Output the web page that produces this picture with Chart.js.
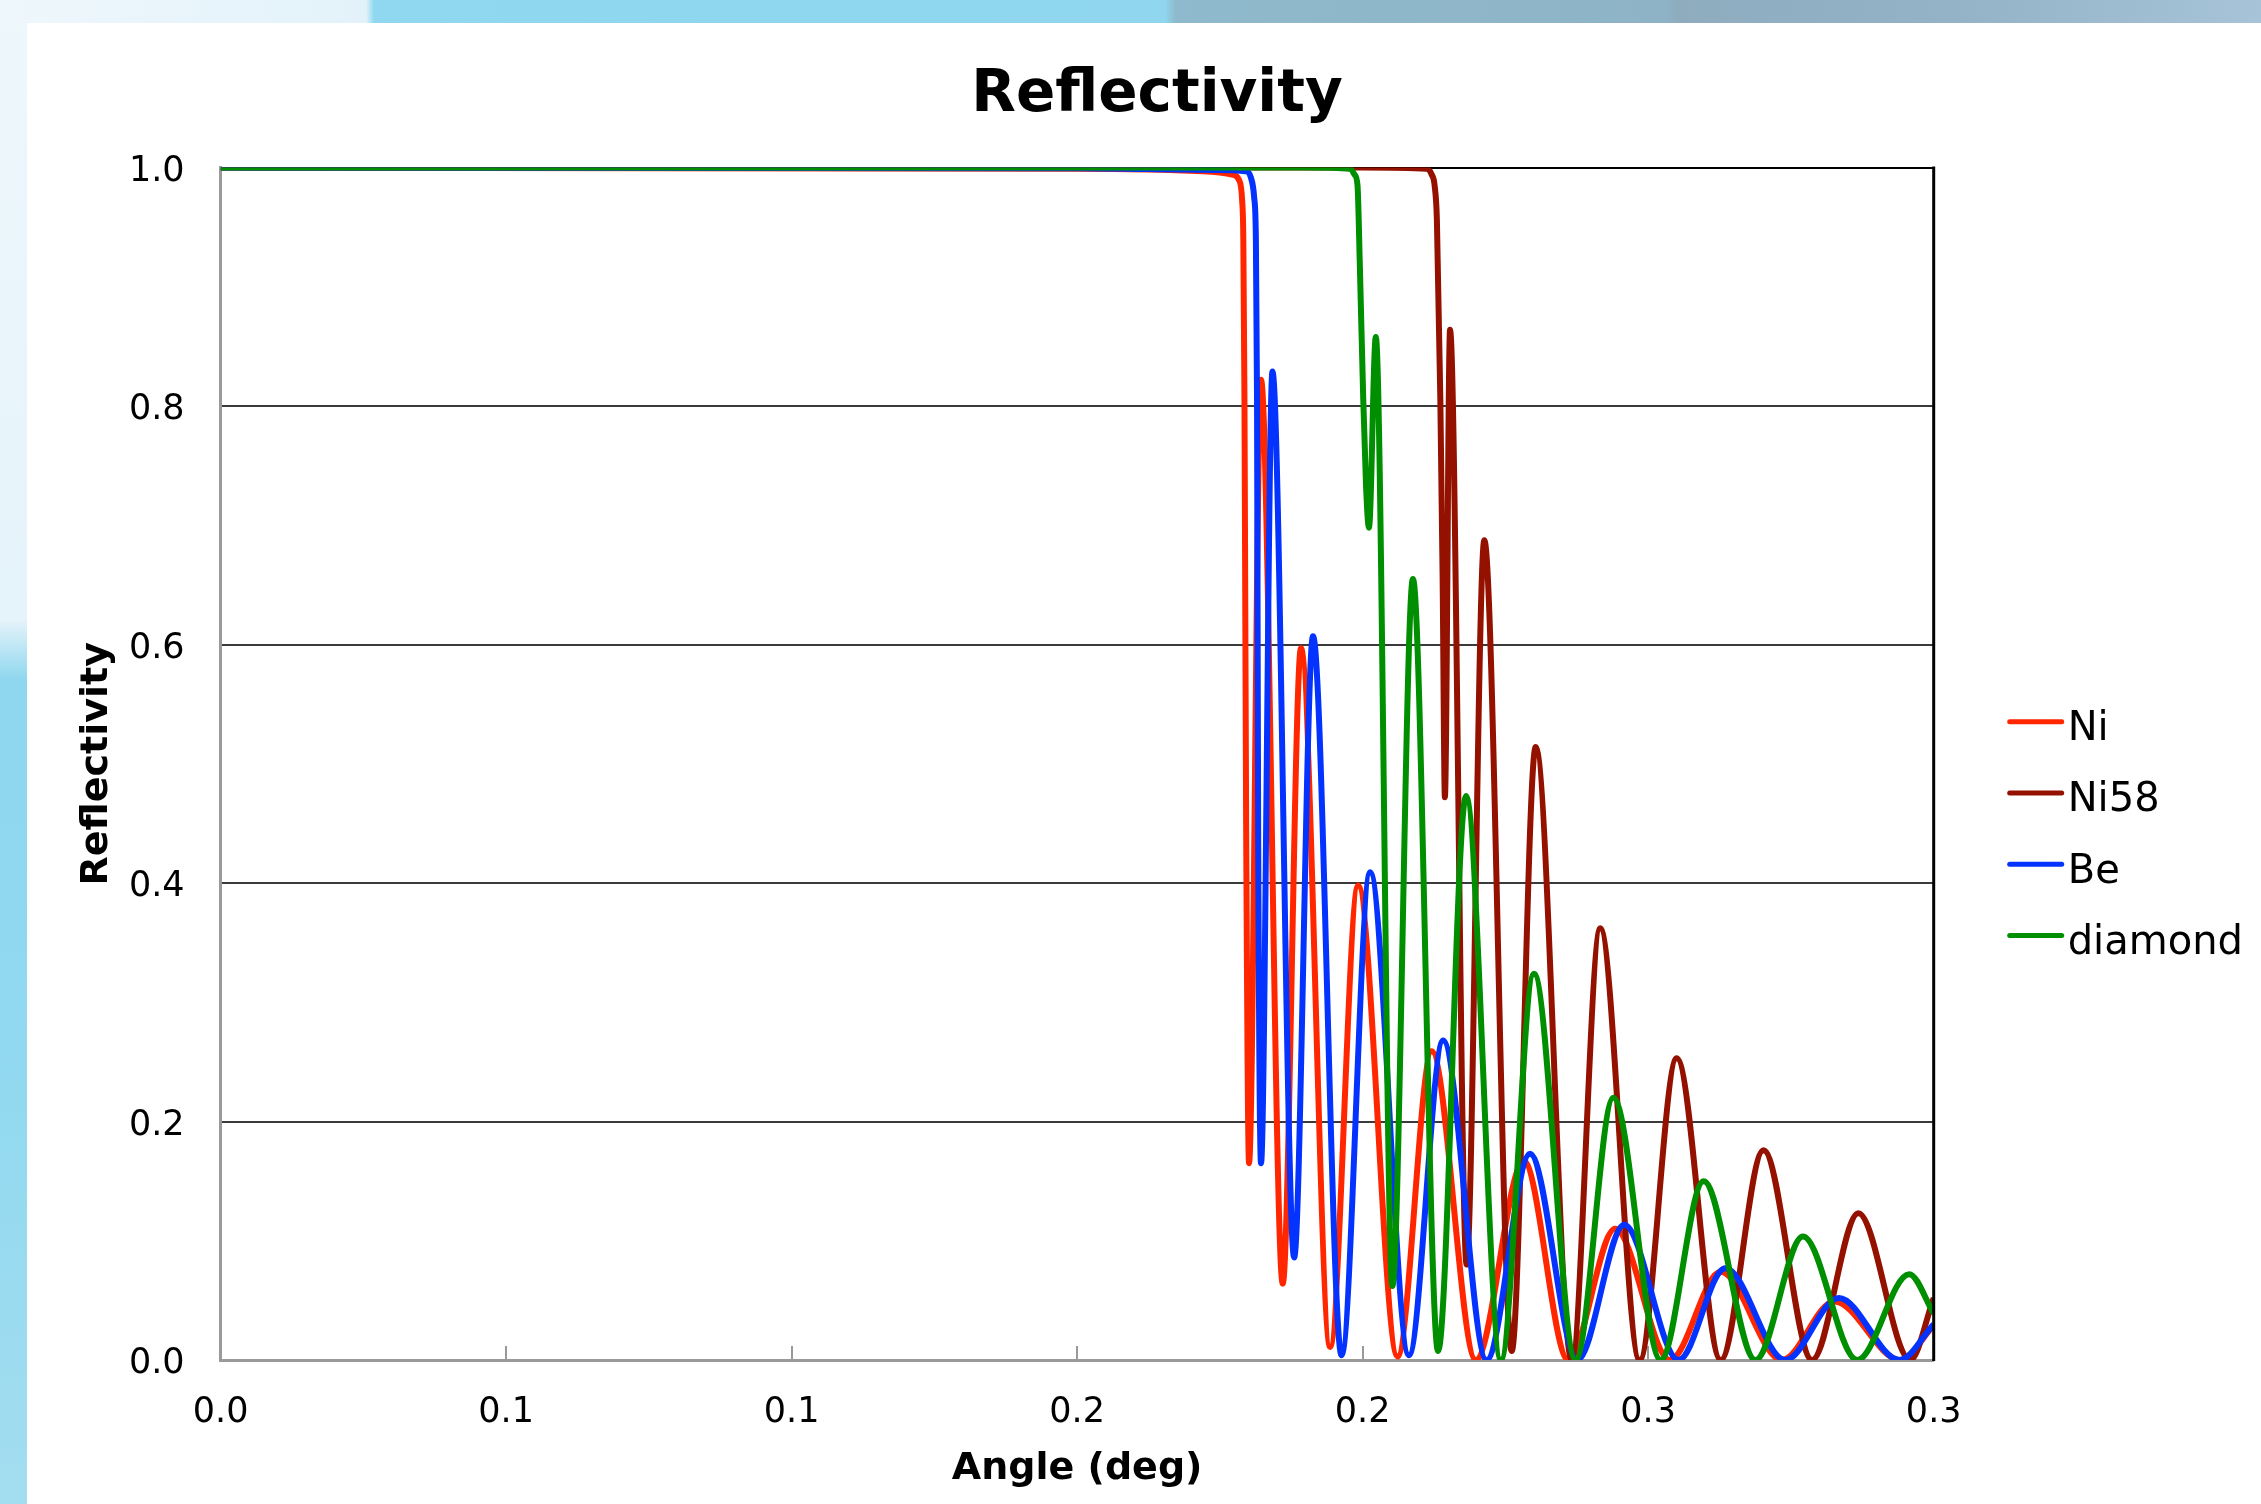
<!DOCTYPE html>
<html>
<head>
<meta charset="utf-8">
<title>Reflectivity</title>
<script src="https://cdn.jsdelivr.net/npm/chart.js@4.4.1/dist/chart.umd.min.js"></script>
<style>
  html, body { margin: 0; padding: 0; width: 2261px; height: 1504px; overflow: hidden; background: #fff; }
  #band-top {
    position: absolute; left: 0; top: 0; width: 2261px; height: 23px;
    background: linear-gradient(90deg, #eef7fc 0px, #e3f2fa 366px, #8fd8f0 374px, #8fd6ee 1165px,
      #8fb9cc 1176px, #8eb3c6 1665px, #8eacbe 1678px, #95b3c7 1960px, #a6c3d8 2261px);
  }
  #band-left {
    position: absolute; left: 0; top: 0; width: 27px; height: 1504px;
    background: linear-gradient(180deg, #eef7fc 0px, #e5f3fa 620px, #8ed7ef 680px, #92d9f0 1100px, #a3ddf0 1504px);
  }
  #wrap { position: absolute; left: 0; top: 0; width: 2261px; height: 1504px; }
</style>
</head>
<body>
<div id="band-top"></div>
<div id="band-left"></div>
<div id="wrap"><canvas id="myChart"></canvas></div>
<script>
// Data
var xTickValues = [0, 0.05, 0.1, 0.15, 0.2, 0.25, 0.3];
var xTickLabels = ['0.0', '0.1', '0.1', '0.2', '0.2', '0.3', '0.3'];
var yTickValues = [0, 0.2, 0.4, 0.6, 0.8, 1.0];
var yTickLabels = ['0.0', '0.2', '0.4', '0.6', '0.8', '1.0'];

var niAngle = [0, 0.15, 0.172, 0.1773, 0.1783, 0.1789, 0.1791, 0.1793, 0.1796, 0.1801, 0.1822, 0.186, 0.1892,
  0.1943, 0.1992, 0.2061, 0.2121, 0.2198, 0.2282, 0.2360, 0.2442, 0.2538, 0.2627, 0.2734, 0.2826, 0.2941, 0.3];
var niRefl = [1.0, 0.999, 0.997, 0.994, 0.99, 0.972, 0.94, 0.806, 0.444, 0.165, 0.822, 0.064, 0.597,
  0.011, 0.398, 0.003, 0.259, 0.0, 0.167, 0.0, 0.11, 0.0, 0.074, 0.0, 0.049, 0.0, 0.029];

var ni58Angle = [0, 0.2, 0.2112, 0.2121, 0.2126, 0.2130, 0.2136, 0.2140, 0.2144, 0.2153, 0.2182, 0.2213,
  0.2261, 0.2303, 0.2366, 0.2416, 0.2485, 0.2550, 0.2627, 0.2702, 0.2787, 0.2868, 0.2959, 0.3];
var ni58Refl = [1.0, 1.0, 0.999, 0.994, 0.985, 0.956, 0.806, 0.657, 0.472, 0.864, 0.08, 0.6875,
  0.0075, 0.514, 0.0, 0.362, 0.0, 0.253, 0.0, 0.176, 0.0, 0.123, 0.0, 0.052];

var beAngle = [0, 0.15, 0.174, 0.1795, 0.1804, 0.1810, 0.1813, 0.1815, 0.1817, 0.1822, 0.1842, 0.188, 0.1913,
  0.1963, 0.2013, 0.2081, 0.2141, 0.2217, 0.2293, 0.2376, 0.2458, 0.2553, 0.2635, 0.274, 0.2834, 0.294, 0.3];
var beRefl = [1.0, 0.9995, 0.998, 0.997, 0.992, 0.975, 0.94, 0.806, 0.444, 0.165, 0.829, 0.086, 0.607,
  0.004, 0.409, 0.004, 0.268, 0.0, 0.173, 0.0, 0.1135, 0.0, 0.077, 0.0, 0.052, 0.0, 0.03];

var diamondAngle = [0, 0.19, 0.1978, 0.1986, 0.1991, 0.1995, 0.2001, 0.2006, 0.2011, 0.2023, 0.2052, 0.2088,
  0.2132, 0.2181, 0.2242, 0.23, 0.2373, 0.2439, 0.2522, 0.2597, 0.2688, 0.2771, 0.2866, 0.2957, 0.3];
var diamondRefl = [1.0, 1.0, 0.999, 0.994, 0.985, 0.919, 0.806, 0.732, 0.698, 0.858, 0.062, 0.655,
  0.0075, 0.473, 0.0, 0.324, 0.0, 0.22, 0.0, 0.15, 0.0, 0.1035, 0.0, 0.072, 0.039];

function pts(angle, refl) {
  return angle.map(function (a, i) { return { x: a, y: refl[i] }; });
}

// inner tick marks on the x axis + black right edge
var frame = {
  id: 'frame',
  beforeDatasetsDraw: function (chart) {
    var ctx = chart.ctx, a = chart.chartArea, x = chart.scales.x;
    ctx.save();
    ctx.strokeStyle = '#9a9a9a';
    ctx.lineWidth = 2;
    xTickValues.forEach(function (v) {
      var px = Math.round(x.getPixelForValue(v));
      ctx.beginPath();
      ctx.moveTo(px, a.bottom);
      ctx.lineTo(px, a.bottom - 14);
      ctx.stroke();
    });
    ctx.restore();
  },
  afterDatasetsDraw: function (chart) {
    var ctx = chart.ctx, a = chart.chartArea;
    ctx.save();
    ctx.strokeStyle = '#000';
    ctx.lineWidth = 3;
    ctx.beginPath();
    ctx.moveTo(a.right, a.top - 1);
    ctx.lineTo(a.right, a.bottom + 1);
    ctx.stroke();
    ctx.restore();
  }
};

// legend: short line + name, to the right of the plot
var sideLegend = {
  id: 'sideLegend',
  afterDraw: function (chart) {
    var ctx = chart.ctx, a = chart.chartArea;
    var x0 = a.right + 76;
    ctx.save();
    ctx.font = '40px "DejaVu Sans"';
    ctx.textBaseline = 'alphabetic';
    ctx.textAlign = 'left';
    chart.data.datasets.forEach(function (ds, i) {
      var y = 721.7 + i * 71.3;
      ctx.strokeStyle = ds.borderColor;
      ctx.lineWidth = 5;
      ctx.lineCap = 'round';
      ctx.beginPath();
      ctx.moveTo(x0, y);
      ctx.lineTo(x0 + 52, y);
      ctx.stroke();
      ctx.fillStyle = '#000';
      ctx.fillText(ds.label, x0 + 58, y + 18.3);
    });
    ctx.restore();
  }
};

Chart.defaults.font.family = '"DejaVu Sans", sans-serif';
Chart.defaults.color = '#000';

var graficoContainer = document.getElementById('myChart');
var grafico = new Chart(graficoContainer, {
  type: 'line',
  data: {
    datasets: [
      { label: 'Ni', data: pts(niAngle, niRefl), borderColor: '#ff2600', order: 4 },
      { label: 'Ni58', data: pts(ni58Angle, ni58Refl), borderColor: '#941100', order: 3 },
      { label: 'Be', data: pts(beAngle, beRefl), borderColor: '#0433ff', order: 2 },
      { label: 'diamond', data: pts(diamondAngle, diamondRefl), borderColor: '#008f00', order: 1 }
    ]
  },
  options: {
    responsive: true,
    maintainAspectRatio: false,
    animation: false,
    layout: { padding: { left: 53, right: 0, top: 0, bottom: 0 } },
    elements: {
      point: { radius: 0 },
      line: { borderWidth: 6, cubicInterpolationMode: 'monotone', fill: false }
    },
    plugins: {
      legend: { display: false },
      tooltip: { enabled: false },
      title: {
        display: true,
        text: 'Reflectivity',
        color: '#000',
        font: { size: 58, weight: 'bold' },
        padding: { top: 61, bottom: 37 }
      }
    },
    scales: {
      x: {
        type: 'linear',
        min: 0,
        max: 0.3,
        afterBuildTicks: function (s) { s.ticks = xTickValues.map(function (v) { return { value: v }; }); },
        afterFit: function (s) { s.height = 144; },
        ticks: {
          callback: function (v, i) { return xTickLabels[i]; },
          font: { size: 35 },
          padding: 32,
          maxRotation: 0,
          autoSkip: false
        },
        grid: { display: false, drawTicks: false },
        border: { color: '#9a9a9a', width: 3 },
        title: {
          display: true,
          text: 'Angle (deg)',
          font: { size: 38, weight: 'bold' },
          padding: { top: 0, bottom: 12 }
        }
      },
      y: {
        type: 'linear',
        min: 0,
        max: 1,
        afterBuildTicks: function (s) { s.ticks = yTickValues.map(function (v) { return { value: v }; }); },
        afterFit: function (s) { s.width = 167.6; },
        ticks: {
          callback: function (v, i) { return yTickLabels[i]; },
          font: { size: 35 },
          padding: 36,
          labelOffset: 4
        },
        grid: {
          drawTicks: false,
          lineWidth: 2,
          color: function (c) {
            if (!c.tick) return '#3a3a3a';
            if (c.tick.value === 1) return '#000';
            if (c.tick.value === 0) return 'rgba(0,0,0,0)';
            return '#3a3a3a';
          }
        },
        border: { color: '#9a9a9a', width: 3 },
        title: {
          display: true,
          text: 'Reflectivity',
          font: { size: 38, weight: 'bold' },
          padding: { top: 21, bottom: 0 }
        }
      },
      yRight: {
        type: 'linear',
        position: 'right',
        min: 0,
        max: 1,
        grid: { display: false, drawTicks: false },
        border: { display: false },
        ticks: { display: false },
        afterFit: function (s) { s.width = 327.3; }
      }
    }
  },
  plugins: [frame, sideLegend]
});
</script>
</body>
</html>
